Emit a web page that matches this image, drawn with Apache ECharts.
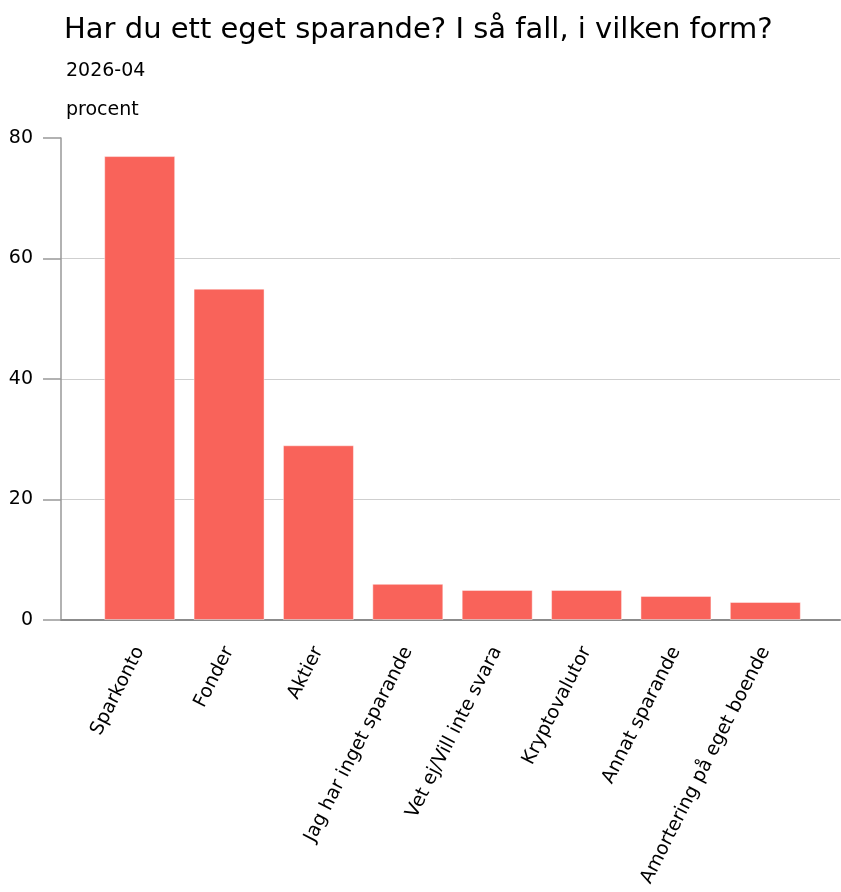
<!DOCTYPE html>
<html>
<head>
<meta charset="utf-8">
<script src="https://cdn.jsdelivr.net/npm/echarts@6/dist/echarts.min.js"></script>
<style>
  html, body { margin: 0; padding: 0; background: #fff; }
  #chart { width: 841px; height: 892px; }
</style>
</head>
<body>
<div id="chart"></div>
<script>
const categories = ['Sparkonto', 'Fonder', 'Aktier', 'Jag har inget sparande', 'Vet ej/Vill inte svara', 'Kryptovalutor', 'Annat sparande', 'Amortering på eget boende'];
const values = [77, 55, 29, 6, 5, 5, 4, 3];
const yTicks = { min: 0, max: 80, interval: 20 };

const labelFont = '"DejaVu Sans", sans-serif';
const chart = echarts.init(document.getElementById('chart'));

chart.setOption({
  animation: false,
  title: [
    { text: 'Har du ett eget sparande? I så fall, i vilken form?', left: 59, top: 11,
      textStyle: { fontFamily: labelFont, fontSize: 29, fontWeight: 'normal', color: '#000' } },
    { text: '2026-04', left: 61, top: 57,
      textStyle: { fontFamily: labelFont, fontSize: 19, fontWeight: 'normal', color: '#000' } },
    { text: 'procent', left: 61, top: 96,
      textStyle: { fontFamily: labelFont, fontSize: 19, fontWeight: 'normal', color: '#000' } }
  ],
  grid: [
    { left: 61, right: 1, top: 138, bottom: 272 },
    { left: 95, right: 31, top: 138, bottom: 272 }
  ],
  xAxis: [
    { gridIndex: 0, type: 'value', min: 0, max: 1, show: true,
      axisLine: { show: true, lineStyle: { color: '#8c8c8c', width: 2 } },
      axisTick: { show: false }, axisLabel: { show: false }, splitLine: { show: false } },
    { gridIndex: 1, type: 'category', data: categories,
      axisLine: { show: false }, axisTick: { show: false },
      axisLabel: { rotate: 63, margin: 28, fontFamily: labelFont, fontSize: 19, color: '#000', interval: 0 } }
  ],
  yAxis: [
    { gridIndex: 0, type: 'value', min: yTicks.min, max: yTicks.max, interval: yTicks.interval,
      axisLine: { show: true, lineStyle: { color: '#999', width: 1.5 } },
      axisTick: { show: true, length: 18, lineStyle: { color: '#999', width: 1.5 } },
      axisLabel: { margin: 28, fontFamily: labelFont, fontSize: 19, color: '#000' },
      splitLine: { show: true, showMaxLine: false, lineStyle: { color: '#cfcfcf', width: 1 } } },
    { gridIndex: 1, type: 'value', min: yTicks.min, max: yTicks.max, interval: yTicks.interval, show: false,
      splitLine: { show: false } }
  ],
  series: [{
    type: 'bar',
    xAxisIndex: 1,
    yAxisIndex: 1,
    data: values,
    barWidth: 71,
    itemStyle: { color: '#f9635a', borderColor: 'rgba(255,255,255,0.45)', borderWidth: 1 }
  }]
});
</script>
</body>
</html>
